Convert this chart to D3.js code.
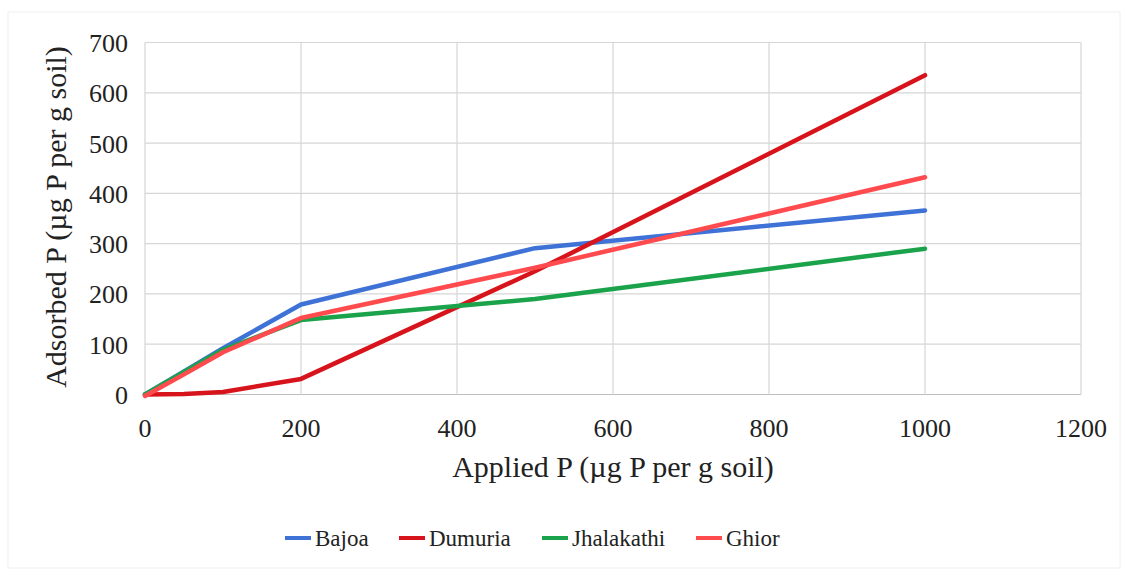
<!DOCTYPE html>
<html>
<head>
<meta charset="utf-8">
<script src="https://cdn.jsdelivr.net/npm/d3@7"></script>
<style>
  body { margin: 0; background: #fff; }
  text { font-family: "Liberation Serif", "DejaVu Serif", serif; fill: #222; }
</style>
</head>
<body>
<div class="chartContainer"></div>
<script>
// ======= data ========
var applied = [0, 50, 100, 200, 500, 1000];
var bajoa = [0, 46, 92, 179, 291, 366];
var dumuria = [0, 1, 5, 31, 245, 635];
var jhalakathi = [0, 45, 89, 148, 190, 290];
var ghior = [-3, 40, 84, 152, 252, 432];
var seriesNames = ["Bajoa", "Dumuria", "Jhalakathi", "Ghior"];
var seriesColors = ["#3f72d6", "#d7141b", "#1aa34a", "#ff4a4e"];
var xTicks = [0, 200, 400, 600, 800, 1000, 1200];
var yTicks = [0, 100, 200, 300, 400, 500, 600, 700];

var width = 1128;
var height = 576;
var plotLeft = 145, plotRight = 1081, plotTop = 42.5, plotBottom = 394.5;

var svg = d3.select(".chartContainer")
  .append("svg")
    .attr("width", width)
    .attr("height", height);

svg.append("rect")
    .attr("x", 8).attr("y", 12)
    .attr("width", width - 16).attr("height", height - 20)
    .style("fill", "none")
    .style("stroke", "#f0f0f0");

var x = d3.scaleLinear().domain([0, 1200]).range([plotLeft, plotRight]);
var y = d3.scaleLinear().domain([0, 700]).range([plotBottom, plotTop]);

// ======= grid ========
var grid = svg.append("g").attr("class", "grid");

grid.selectAll(".hline")
    .data(yTicks)
  .enter().append("line")
    .attr("x1", plotLeft).attr("x2", plotRight)
    .attr("y1", function(d){ return y(d); })
    .attr("y2", function(d){ return y(d); })
    .style("stroke", function(d){ return d === 0 ? "#bdbdbd" : "#d6d6d6"; })
    .style("stroke-width", 1.2);

grid.selectAll(".vline")
    .data(xTicks)
  .enter().append("line")
    .attr("y1", plotTop).attr("y2", plotBottom)
    .attr("x1", function(d){ return x(d); })
    .attr("x2", function(d){ return x(d); })
    .style("stroke", "#d6d6d6")
    .style("stroke-width", 1.2);

// ======= axes labels ========
svg.selectAll(".ytick")
    .data(yTicks)
  .enter().append("text")
    .attr("x", 128)
    .attr("y", function(d){ return y(d) + 9.5; })
    .attr("text-anchor", "end")
    .style("font-size", "26px")
    .text(function(d){ return d; });

svg.selectAll(".xtick")
    .data(xTicks)
  .enter().append("text")
    .attr("x", function(d){ return x(d); })
    .attr("y", 437)
    .attr("text-anchor", "middle")
    .style("font-size", "26px")
    .text(function(d){ return d; });

svg.append("text")
    .attr("x", 613).attr("y", 477)
    .attr("text-anchor", "middle")
    .style("font-size", "30px")
    .text("Applied P (µg P per g soil)");

svg.append("text")
    .attr("transform", "translate(66,217) rotate(-90)")
    .attr("text-anchor", "middle")
    .style("font-size", "30px")
    .text("Adsorbed P (µg P per g soil)");

// ======= lines ========
var allSeries = [bajoa, dumuria, jhalakathi, ghior];
var line = d3.line()
    .x(function(d, i){ return x(applied[i]); })
    .y(function(d){ return y(d); });

svg.append("g").attr("class", "lines")
  .selectAll("path")
    .data(allSeries)
  .enter().append("path")
    .attr("d", line)
    .style("fill", "none")
    .style("stroke", function(d, i){ return seriesColors[i]; })
    .style("stroke-width", 4.5)
    .style("stroke-linejoin", "round")
    .style("stroke-linecap", "round");

// ======= legend ========
var legendX = [285, 399, 542, 696];
var legend = svg.append("g").attr("class", "legend");
var items = legend.selectAll(".item")
    .data(seriesNames)
  .enter().append("g")
    .attr("transform", function(d, i){ return "translate(" + legendX[i] + ",538)"; });

items.append("line")
    .attr("x1", 0).attr("x2", 26)
    .style("stroke", function(d, i){ return seriesColors[i]; })
    .style("stroke-width", 4);

items.append("text")
    .attr("x", 30).attr("y", 8)
    .style("font-size", "23px")
    .text(function(d){ return d; });
</script>
</body>
</html>
